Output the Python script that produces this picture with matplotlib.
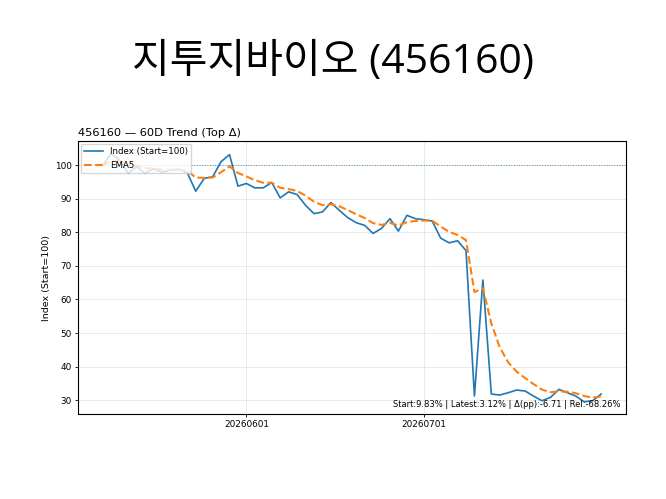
import matplotlib
matplotlib.use("Agg")
import matplotlib.pyplot as plt
import numpy as np
import pandas as pd

plt.rcParams['font.family'] = ['DejaVu Sans', 'Noto Sans CJK KR']

title_main = "지투지바이오 (456160)"
title_sub = "456160 — 60D Trend (Top Δ)"
index_values = [
    100.0, 103.5, 101.5, 97.6, 99.6, 97.6, 99.0, 97.9, 98.6, 98.8,
    97.8, 92.3, 96.1, 96.6, 101.1, 103.2, 93.8, 94.6, 93.3, 93.3,
    94.9, 90.3, 92.1, 91.3, 88.1, 85.6, 86.1, 88.9, 86.6, 84.4,
    82.9, 82.1, 79.7, 81.2, 84.1, 80.4, 85.1, 84.1, 83.8, 83.4,
    78.3, 76.9, 77.5, 74.6, 31.2, 65.8, 31.8, 31.5, 32.2, 33.0,
    32.7, 31.2, 29.8, 30.8, 33.2, 32.2, 31.2, 29.5, 29.8, 31.8,
]
tick_positions = [17, 38]
tick_labels = ["20260601", "20260701"]
stats_text = "Start:9.83% | Latest:3.12% | Δ(pp):-6.71 | Rel:-68.26%"

s = pd.Series(index_values)
ema = s.ewm(span=5, adjust=False).mean()
x = np.arange(len(s))

fig = plt.figure(figsize=(6.66, 4.99), dpi=100)
ax = fig.add_axes([0.117, 0.170, 0.823, 0.547])

ax.plot(x, s.values, color='#1f77b4', lw=1.2, label='Index (Start=100)')
ax.plot(x, ema.values, color='#ff7f0e', lw=1.5, ls='--', label='EMA5')
ax.axhline(100, color='#1f77b4', ls=':', lw=0.7, alpha=0.8)

for sp in ax.spines.values():
    sp.set_linewidth(0.8)
ax.set_xticks(tick_positions)
ax.set_xticklabels(tick_labels)
ax.tick_params(axis='both', labelsize=6.4, width=0.6, length=2.5, pad=2)
ax.set_ylabel("Index (Start=100)", fontsize=6.8, labelpad=3)
ax.grid(True, alpha=0.3, lw=0.6)
ax.set_title(title_sub, loc='left', fontsize=8.2, pad=4)
ax.legend(loc='upper left', fontsize=6.2, borderaxespad=0.3, handlelength=2.2)
ax.text(0.99, 0.02, stats_text, transform=ax.transAxes, ha='right', va='bottom', fontsize=6.05)

fig.text(0.5, 0.874, title_main, ha='center', va='center', fontsize=29.5,
         family=['Open Sans', 'Noto Sans CJK KR'])

fig.savefig("out.png", dpi=100)
